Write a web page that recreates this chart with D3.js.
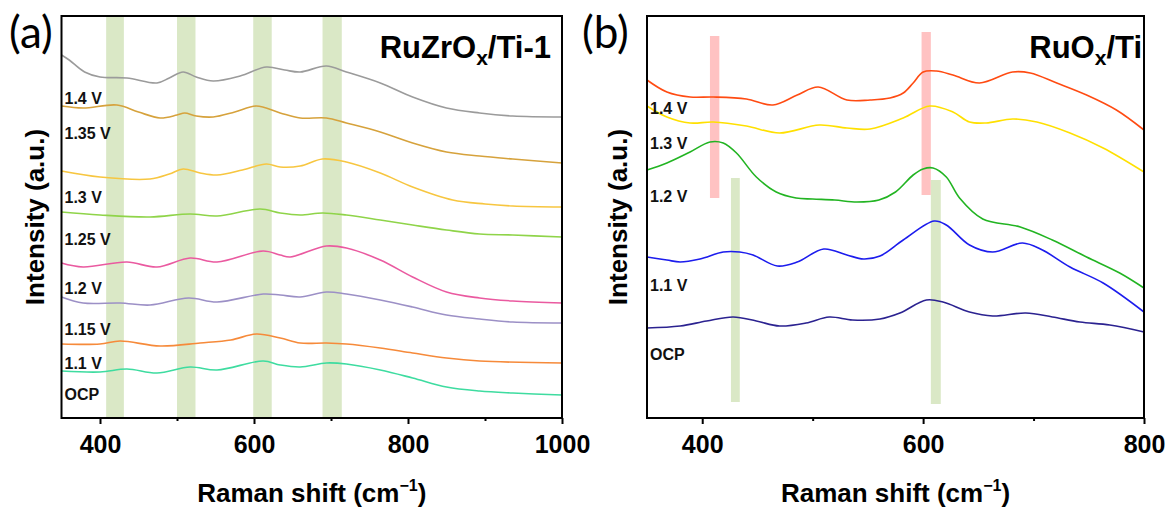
<!DOCTYPE html>
<html lang="en">
<head>
<meta charset="utf-8">
<title>Raman spectra</title>
<script src="https://cdn.jsdelivr.net/npm/d3@7"></script>
<style>
  body { margin: 0; background: #fff; }
  text { font-family: "Liberation Sans", Arial, sans-serif; }
</style>
</head>
<body>
<script>
// ---- data: [Raman shift, intensity (a.u.)] ----
var a14  = [[350,363],[360,358],[380,346],[400,341],[435,340],[474,335],[490,340],[508,346],[525,341],[547,337],[582,342],[616,351],[640,348],[660,346],[694,352],[720,346],[764,335],[806,321],[850,310],[893,305],[936,302],[1000,301]];
var a135 = [[350,312],[378,310],[422,313],[450,306],[478,300],[500,303],[510,305],[525,302],[547,301],[575,306],[603,312],[634,305],[660,300],[694,300],[720,295],[764,286],[806,275],[850,266],[893,262],[936,259],[1000,255]];
var a13  = [[350,247],[400,241],[465,239],[490,244],[508,249],[530,245],[552,243],[585,248],[616,254],[634,251],[660,252],[689,259],[720,256],[764,245],[806,231],[858,218],[900,214],[936,212],[1000,211]];
var a125 = [[350,206],[400,203],[465,201],[517,204],[552,202],[608,209],[634,205],[660,203],[689,205],[720,203],[764,198],[806,193],[850,188],[893,184],[936,183],[1000,181]];
var a12  = [[350,155],[378,151],[435,156],[474,151],[517,160],[552,156],[612,167],[634,163],[647,161],[694,172],[720,170],[764,158],[806,141],[850,126],[893,120],[936,117],[1000,115]];
var a115 = [[350,121],[378,115],[426,115],[465,113],[515,120],[552,116],[612,124],[634,123],[660,121],[694,126],[720,124],[764,118],[806,111],[850,103],[893,99],[936,96],[1000,95]];
var a11  = [[350,74],[400,74],[426,77],[478,72],[530,75],[570,78],[603,84],[634,80],[660,75],[694,75],[720,74],[764,70],[806,65],[850,60],[893,57],[1000,55]];
var aOCP = [[350,47],[400,46],[435,49],[474,45],[517,51],[552,48],[612,57],[634,53],[660,51],[694,55],[720,54],[764,48],[806,40],[850,31],[893,27],[936,25],[1000,23]];

var b14  = [[350,338],[368,326],[389,321],[410,321],[440,319],[464,313],[486,323],[505,331],[531,318],[552,318],[570,320],[582,325],[591,335],[600,346],[612,347],[627,343],[651,335],[681,346],[697,345],[721,335],[748,323],[775,308],[800,288]];
var b13  = [[350,312],[368,301],[389,295],[410,296],[440,292],[470,285],[506,293],[531,290],[552,289],[582,300],[606,312],[627,306],[642,296],[657,295],[681,299],[703,296],[733,285],[763,270],[800,246]];
var b12  = [[350,248],[368,255],[389,266],[407,276],[419,275],[431,265],[449,241],[467,226],[485,220],[500,219],[520,218],[540,216],[560,218],[575,226],[591,243],[600,249],[609,250],[621,241],[633,220],[654,199],[688,191],[717,178],[748,161],[778,145],[800,130]];
var b11  = [[350,161],[368,158],[380,156],[398,159],[419,166],[434,166],[446,163],[468,152],[486,156],[510,169],[531,163],[546,159],[561,162],[582,178],[610,197],[621,193],[642,173],[663,166],[690,175],[708,168],[733,151],[763,135],[800,106]];
var bOCP = [[350,90],[380,92],[404,97],[428,101],[449,97],[470,92],[494,95],[515,101],[536,98],[561,99],[579,105],[603,118],[618,116],[642,106],[663,102],[693,105],[717,101],[742,96],[769,93],[800,86]];

var labelsA = ["1.4 V", "1.35 V", "1.3 V", "1.25 V", "1.2 V", "1.15 V", "1.1 V", "OCP"];
var labelsB = ["1.4 V", "1.3 V", "1.2 V", "1.1 V", "OCP"];

var ticksA = [400, 600, 800, 1000], minorA = [500, 700, 900];
var ticksB = [400, 600, 800], minorB = [500, 700];

// highlight bands: [x0, x1, y0, y1] (x in cm-1, y in a.u.)
var bandsA = [[408, 431, 0, 402], [500, 524, 0, 402], [599, 623, 0, 402], [689, 714, 0, 402]];
var pinkB  = [[407, 415.5, 220, 382], [598.6, 607, 223, 386]];
var greenB = [[426, 434, 16, 240], [607, 616, 14, 238]];

// ---- styling / layout ----
var colorsA = ["#9b9b9b", "#d6a23c", "#f7c640", "#8fd449", "#ea5aa0", "#9c90c6", "#f68a3a", "#3edca0"];
var colorsB = ["#ff4b12", "#ffe000", "#22b422", "#1c1ced", "#2b2290"];
var greenFill = "#dae8c6", pinkFill = "#ffc2c2";
// label anchors in a.u.
var labelYA = [320, 285, 221, 179, 130, 89, 55, 24];
var labelYB = [310, 275, 222, 133, 64];

var W = 1168, H = 508, plotTop = 16, plotBottom = 418;

var svg = d3.select("body").append("svg")
  .attr("width", W).attr("height", H);

var yScale = d3.scaleLinear().domain([0, 402]).range([plotBottom, plotTop]);

function drawPanel(opt) {
  var x = d3.scaleLinear().domain(opt.domain).range([opt.left, opt.right]);
  var g = svg.append("g");

  // bands
  opt.bands.forEach(function(set) {
    g.append("g").selectAll("rect").data(set.rows).enter().append("rect")
      .attr("x", function(d) { return x(d[0]); })
      .attr("width", function(d) { return x(d[1]) - x(d[0]); })
      .attr("y", function(d) { return yScale(d[3]); })
      .attr("height", function(d) { return yScale(d[2]) - yScale(d[3]); })
      .attr("fill", set.fill);
  });

  var line = d3.line()
    .x(function(d) { return x(d[0]); })
    .y(function(d) { return yScale(d[1]); })
    .curve(d3.curveCatmullRom.alpha(0.5));

  g.selectAll("path.spec").data(opt.series).enter().append("path")
    .attr("d", line)
    .attr("fill", "none")
    .attr("stroke", function(d, i) { return opt.colors[i]; })
    .attr("stroke-width", 1.6);

  g.selectAll("text.lab").data(opt.labels).enter().append("text")
    .attr("x", opt.left + 3)
    .attr("y", function(d, i) { return yScale(opt.labelY[i]) + 6; })
    .attr("font-size", 16).attr("font-weight", "bold")
    .attr("fill", "#111")
    .text(function(d) { return d; });

  // axes
  var xAxis = d3.axisBottom(x).tickValues(opt.ticks).tickSize(6).tickSizeOuter(0)
    .tickPadding(11).tickFormat(d3.format("d"));
  var ax = g.append("g").attr("transform", "translate(0," + plotBottom + ")").call(xAxis);
  ax.select(".domain").remove();
  ax.selectAll("line").attr("stroke", "#000").attr("stroke-width", 2);
  ax.selectAll("text").attr("font-size", 25).attr("font-weight", "bold").attr("fill", "#000")
    .style("font-family", "'Liberation Sans', Arial, sans-serif");

  var mAxis = d3.axisBottom(x).tickValues(opt.minor).tickSize(3).tickSizeOuter(0).tickFormat("");
  var mx = g.append("g").attr("transform", "translate(0," + plotBottom + ")").call(mAxis);
  mx.select(".domain").remove();
  mx.selectAll("line").attr("stroke", "#000").attr("stroke-width", 2);

  g.append("rect")
    .attr("x", opt.left).attr("y", plotTop)
    .attr("width", opt.right - opt.left).attr("height", plotBottom - plotTop)
    .attr("fill", "none").attr("stroke", "#000").attr("stroke-width", 2);

  // axis titles
  var xt = g.append("text")
    .attr("x", (opt.left + opt.right) / 2).attr("y", 502)
    .attr("text-anchor", "middle").attr("font-size", 26).attr("font-weight", "bold");
  xt.append("tspan").text("Raman shift (cm");
  xt.append("tspan").attr("font-size", 16).attr("dy", -11).text("\u22121");
  xt.append("tspan").attr("dy", 11).text(")");

  g.append("text")
    .attr("transform", "translate(" + opt.ylabX + "," + ((plotTop + plotBottom) / 2) + ") rotate(-90)")
    .attr("text-anchor", "middle").attr("font-size", 26).attr("font-weight", "bold")
    .text("Intensity (a.u.)");

  // sample title
  var tt = g.append("text")
    .attr("x", opt.titleX).attr("y", 58)
    .attr("text-anchor", "end").attr("font-size", 31).attr("font-weight", "bold");
  tt.append("tspan").text(opt.title[0]);
  tt.append("tspan").attr("font-size", 21).attr("dy", 7).text("x");
  tt.append("tspan").attr("dy", -7).text(opt.title[1]);

  // panel letter
  g.append("text")
    .attr("x", opt.letterX).attr("y", 48)
    .attr("font-size", 44)
    .style("font-family", "Lato, 'Open Sans', sans-serif")
    .text(opt.letter);
}

drawPanel({
  domain: [350, 1000], left: 61.5, right: 562,
  series: [a14, a135, a13, a125, a12, a115, a11, aOCP],
  colors: colorsA, labels: labelsA, labelY: labelYA,
  ticks: ticksA, minor: minorA,
  bands: [{ rows: bandsA, fill: greenFill }],
  ylabX: 44, title: ["RuZrO", "/Ti-1"], titleX: 551,
  letter: "(a)", letterX: 9
});

drawPanel({
  domain: [350, 800], left: 647, right: 1144,
  series: [b14, b13, b12, b11, bOCP],
  colors: colorsB, labels: labelsB, labelY: labelYB,
  ticks: ticksB, minor: minorB,
  bands: [{ rows: pinkB, fill: pinkFill }, { rows: greenB, fill: greenFill }],
  ylabX: 627, title: ["RuO", "/Ti"], titleX: 1142,
  letter: "(b)", letterX: 582
});
</script>
</body>
</html>
